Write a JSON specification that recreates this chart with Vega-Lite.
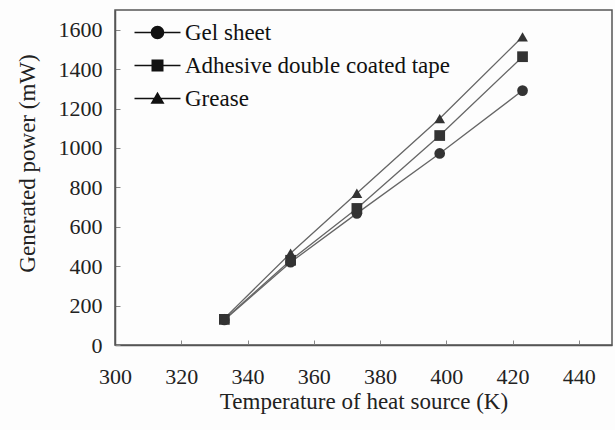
{
  "$schema": "https://vega.github.io/schema/vega-lite/v6.json",
  "width": 497,
  "height": 335,
  "autosize": {"type": "none"},
  "padding": {"left": 115, "top": 10, "right": 3, "bottom": 85},
  "background": "#fdfdfd",
  "config": {
    "font": "Liberation Serif",
    "view": {"stroke": "#555", "strokeWidth": 1.5},
    "axis": {
      "grid": false,
      "domainColor": "#555",
      "domainWidth": 1.5,
      "tickColor": "#888",
      "tickSize": -5,
      "labelFont": "Liberation Serif",
      "labelFontSize": 22,
      "labelColor": "#222",
      "titleFont": "Liberation Serif",
      "titleFontSize": 23,
      "titleFontWeight": "normal",
      "titleColor": "#222",
      "format": "d"
    }
  },
  "data": {
    "values": [
      {"series": "Gel sheet", "T": 333, "P": 127},
      {"series": "Gel sheet", "T": 353, "P": 420},
      {"series": "Gel sheet", "T": 373, "P": 668},
      {"series": "Gel sheet", "T": 398, "P": 972},
      {"series": "Gel sheet", "T": 423, "P": 1291},
      {"series": "Adhesive double coated tape", "T": 333, "P": 130},
      {"series": "Adhesive double coated tape", "T": 353, "P": 430},
      {"series": "Adhesive double coated tape", "T": 373, "P": 693},
      {"series": "Adhesive double coated tape", "T": 398, "P": 1063},
      {"series": "Adhesive double coated tape", "T": 423, "P": 1463},
      {"series": "Grease", "T": 333, "P": 135},
      {"series": "Grease", "T": 353, "P": 466},
      {"series": "Grease", "T": 373, "P": 770},
      {"series": "Grease", "T": 398, "P": 1149},
      {"series": "Grease", "T": 423, "P": 1564}
    ]
  },
  "encoding": {
    "x": {
      "field": "T",
      "type": "quantitative",
      "scale": {"domain": [300, 450], "nice": false, "zero": false},
      "axis": {
        "title": "Temperature of heat source (K)",
        "values": [300, 320, 340, 360, 380, 400, 420, 440],
        "labelPadding": 26,
        "labelFlush": false,
        "titlePadding": 3
      }
    },
    "y": {
      "field": "P",
      "type": "quantitative",
      "scale": {"domain": [0, 1700], "nice": false},
      "axis": {
        "title": "Generated power (mW)",
        "values": [0, 200, 400, 600, 800, 1000, 1200, 1400, 1600],
        "labelPadding": 18,
        "labelFlush": false,
        "titleX": -88,
        "titleY": 153,
        "titleBaseline": "middle",
        "titleAlign": "center",
        "titleAngle": -90
      }
    }
  },
  "resolve": {"scale": {"shape": "independent"}, "legend": {"shape": "independent"}},
  "layer": [
    {
      "mark": {"type": "line", "color": "#666", "strokeWidth": 1.3},
      "encoding": {"detail": {"field": "series", "type": "nominal"}}
    },
    {
      "mark": {"type": "point", "filled": true, "color": "#333", "opacity": 1, "size": 115},
      "encoding": {
        "shape": {
          "field": "series",
          "type": "nominal",
          "scale": {
            "domain": ["Gel sheet", "Adhesive double coated tape", "Grease"],
            "range": ["circle", "square", "triangle-up"]
          },
          "legend": null
        }
      }
    },
    {
      "mark": {"type": "point", "filled": true, "color": "#111", "opacity": 0, "size": 100},
      "encoding": {
        "shape": {
          "field": "series",
          "type": "nominal",
          "scale": {
            "domain": ["Gel sheet", "Adhesive double coated tape", "Grease"],
            "range": [
              "M-4.6,-0.14H4.6V0.14H-4.6ZM1.35,0A1.35,1.35 0 1,1 -1.35,0A1.35,1.35 0 1,1 1.35,0Z",
              "M-4.6,-0.14H4.6V0.14H-4.6ZM-1.2,-1.2H1.2V1.2H-1.2Z",
              "M-4.6,-0.14H4.6V0.14H-4.6ZM0,-1.35L1.4,1.05H-1.4Z"
            ]
          },
          "legend": {
            "title": null,
            "orient": "none",
            "legendX": 31,
            "legendY": 11,
            "padding": 0,
            "rowPadding": 9,
            "symbolSize": 100,
            "symbolOpacity": 1,
            "symbolFillColor": "#111",
            "symbolStrokeColor": "#111",
            "symbolStrokeWidth": 0,
            "labelFont": "Liberation Serif",
            "labelFontSize": 23,
            "labelColor": "#111",
            "labelLimit": 0,
            "labelOffset": 16
          }
        }
      }
    }
  ]
}
